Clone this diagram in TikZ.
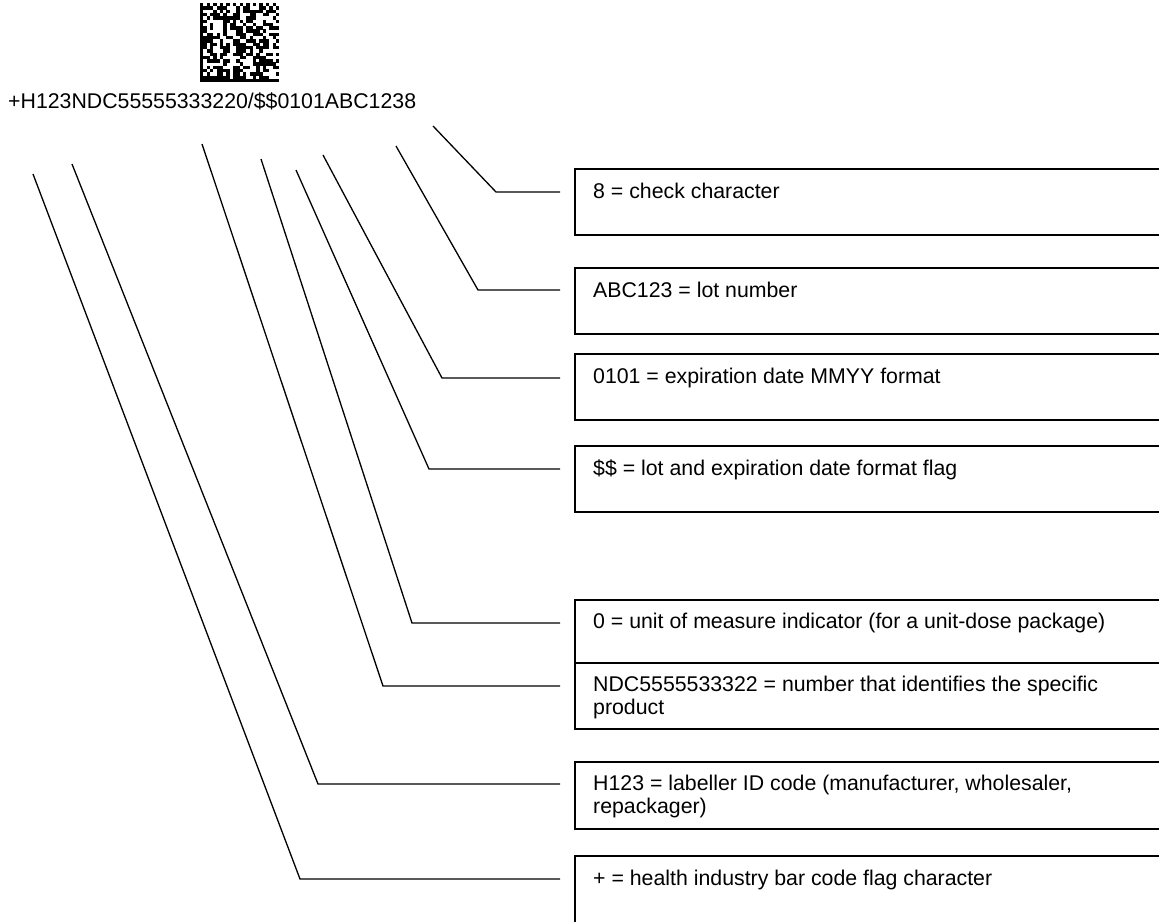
\documentclass[tikz,border=0pt]{standalone}
\usepackage{fontspec}
\setmainfont{Liberation Sans}
\usetikzlibrary{calc}

\begin{document}
\begin{tikzpicture}[x=1pt, y=-1pt,
  infobox/.style={draw, line width=1.6pt, anchor=north west, minimum width=640pt, minimum height=66pt, inner sep=0pt},
  infotext/.style={anchor=base west, align=left, inner sep=0pt, font=\fontsize{21.3}{23.5}\selectfont},
  leader/.style={line width=1.3pt, shorten >=14pt},]
\clip (0,0) rectangle (1159,921);
% data matrix symbol
\fill (200,3) rectangle (203.4,82.2);
\fill (200,78.9) rectangle (279.2,82.2);
\foreach \i in {0,2,...,22} \fill (200+3.3*\i,3) rectangle ++(3.4,3.4);
\foreach \j in {1,3,...,23} \fill (275.9,3+3.3*\j) rectangle ++(3.3,3.4);
\pgfmathsetseed{4711}
\foreach \i in {1,...,22}{
  \foreach \j in {1,...,22}{
    \pgfmathtruncatemacro\dark{rnd+0.5}
    \ifnum\dark=1 \fill (200+3.3*\i,3+3.3*\j) rectangle ++(3.4,3.4);\fi
  }
}
\node[anchor=base west, inner sep=0pt, font=\fontsize{21.3}{24}\selectfont] (code) at (8,108)
  {+H123NDC55555333220/\$\$0101ABC1238};
% boxes
\node[infobox] (chk) at (574,168) {};
\node[infobox] (lot) at (574,267) {};
\node[infobox] (exp) at (574,353) {};
\node[infobox, minimum height=66pt] (flag) at (574,445) {};
\node[infobox, minimum height=63pt] (unit) at (574,599) {};
\node[infobox] (ndc) at (574,662) {};
\node[infobox, minimum height=67pt] (lab) at (574,761) {};
\node[infobox, minimum height=90pt] (hibc) at (574,855) {};
\node[infotext] (chktxt) at ($(chk.north west)+(19,30)$) {8 = check character};
\node[infotext] (lottxt) at ($(lot.north west)+(19,30)$) {ABC123 = lot number};
\node[infotext] (exptxt) at ($(exp.north west)+(19,30)$) {0101 = expiration date MMYY format};
\node[infotext] (flagtxt) at ($(flag.north west)+(19,30)$) {\$\$ = lot and expiration date format flag};
\node[infotext] (unittxt) at ($(unit.north west)+(19,29)$) {0 = unit of measure indicator (for a unit-dose package)};
% two-line texts: base is the last line
\node[infotext] (ndctxt) at ($(ndc.north west)+(19,52.5)$) {NDC5555533322 = number that identifies the specific\\product};
\node[infotext] (labtxt) at ($(lab.north west)+(19,52.5)$) {H123 = labeller ID code (manufacturer, wholesaler,\\repackager)};
\node[infotext] (hibctxt) at ($(hibc.north west)+(19,30)$) {+ = health industry bar code flag character};
% leaders
\coordinate (chktop) at (433,126);   \coordinate (chkbend) at (496,192);
\coordinate (lottop) at (396,146);   \coordinate (lotbend) at (478,290);
\coordinate (exptop) at (323,155);   \coordinate (expbend) at (442,378);
\coordinate (flagtop) at (296,170);  \coordinate (flagbend) at (429,469);
\coordinate (unittop) at (261,159);  \coordinate (unitbend) at (412,623);
\coordinate (ndctop) at (202,144);   \coordinate (ndcbend) at (383,686);
\coordinate (labtop) at (72,164);    \coordinate (labbend) at (318,784);
\coordinate (hibctop) at (33,174);   \coordinate (hibcbend) at (300,879);
\foreach \n in {chk,lot,exp,flag,unit,ndc,lab,hibc}
  \draw[leader] (\n top) -- (\n bend) -- (\n bend -| \n.west);
\end{tikzpicture}
\end{document}
